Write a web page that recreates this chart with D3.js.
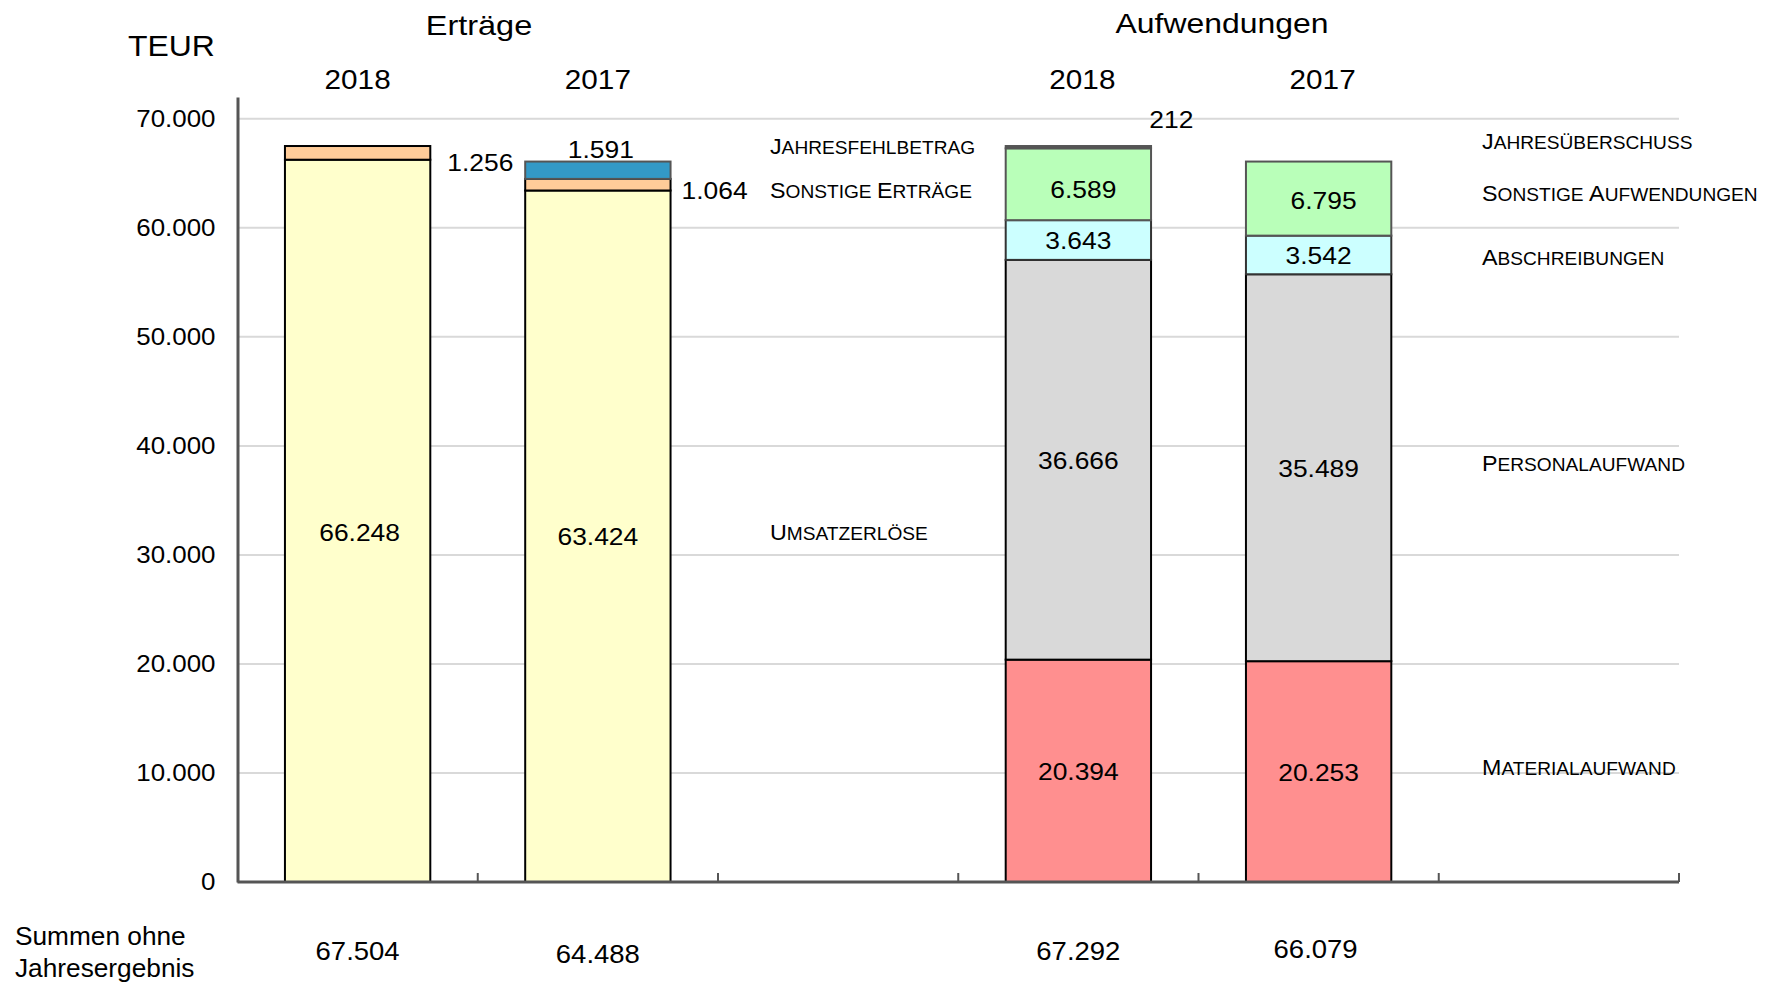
<!DOCTYPE html>
<html>
<head>
<meta charset="utf-8">
<script src="https://cdn.jsdelivr.net/npm/d3@7"></script>
<style>
  body { margin: 0; background: #fff; }
  text { font-family: "Liberation Sans", Arial, sans-serif; fill: #000; }
</style>
</head>
<body>
<svg id="chart" width="1773" height="983"></svg>
<script>
// slots on the x axis (two groups, each followed by an empty slot)
const slots = ["E2018", "E2017", "gap1", "A2018", "A2017", "gap2"];
const slotYears = ["2018", "2017", "", "2018", "2017", ""];

const ertragSeries = ["Umsatzerlöse", "Sonstige Erträge", "Jahresfehlbetrag"];
const ertrag2018 = [66248, 1256, 0];
const ertrag2017 = [63424, 1064, 1591];

const aufwandSeries = ["Materialaufwand", "Personalaufwand", "Abschreibungen", "Sonstige Aufwendungen", "Jahresüberschuss"];
const aufwand2018 = [20394, 36666, 3643, 6589, 212];
const aufwand2017 = [20253, 35489, 3542, 6795, 0];

const sums = [67504, 64488, 67292, 66079];
const yTicks = [0, 10000, 20000, 30000, 40000, 50000, 60000, 70000];

const colors = {
  "Umsatzerlöse": "#ffffcc", "Sonstige Erträge": "#ffcc99", "Jahresfehlbetrag": "#3399c6",
  "Materialaufwand": "#ff8f8f", "Personalaufwand": "#d9d9d9", "Abschreibungen": "#ccffff",
  "Sonstige Aufwendungen": "#b9ffb9", "Jahresüberschuss": "#555555"
};
const strokes = {
  "Jahresfehlbetrag": "#555", "Sonstige Aufwendungen": "#555", "Jahresüberschuss": "#555", "Abschreibungen": "#333"
};
// where the value label of a segment goes (default: centred inside), plus small nudges
const labelPos = {
  "E2018|Sonstige Erträge": "right", "E2017|Sonstige Erträge": "right",
  "E2017|Jahresfehlbetrag": "top", "A2018|Jahresüberschuss": "topright"
};
const labelNudge = {
  "E2018|Umsatzerlöse": [2, 11], "A2018|Sonstige Aufwendungen": [5, 5], "A2017|Sonstige Aufwendungen": [5, 1],
  "E2018|Sonstige Erträge": [0, 4], "E2017|Sonstige Erträge": [-6, 0]
};

const de = d3.formatLocale({decimal: ",", thousands: ".", grouping: [3], currency: ["", " €"]});
const fmt = de.format(",d");

const svg = d3.select("#chart");
const x = d3.scaleBand().domain(slots).range([237.5, 1679]).padding(0);
const y = d3.scaleLinear().domain([0, 72000]).range([882, 97]);
const barW = x.bandwidth() * 0.605;

// text in the reference is a bit wider than the font: stretch around its x
function stretch(sel, s) {
  sel.each(function() {
    const x0 = +this.getAttribute("x") || 0;
    const a = this.getAttribute("text-anchor");
    d3.select(this).attr("transform", `translate(${x0 * (1 - s)},0) scale(${s},1)`);
  });
}

// grid
svg.append("g").selectAll("line").data(yTicks.filter(d => d > 0)).join("line")
  .attr("x1", x.range()[0]).attr("x2", x.range()[1])
  .attr("y1", d => y(d)).attr("y2", d => y(d))
  .attr("stroke", "#d9d9d9").attr("stroke-width", 2);

// y axis
const yAxis = svg.append("g").attr("transform", "translate(237.5,0)")
  .call(d3.axisLeft(y).tickValues(yTicks).tickSize(0).tickPadding(22).tickFormat(fmt));
yAxis.select(".domain").attr("stroke", "#555").attr("stroke-width", 3);
yAxis.selectAll("text").attr("font-size", 24).attr("font-family", "Liberation Sans, Arial").attr("fill", "#000")
  .call(stretch, 1.08);

// stacked bars
function drawGroup(keys, rows) {
  const table = rows.map(r => Object.assign({slot: r.slot}, Object.fromEntries(keys.map((k, i) => [k, r.values[i]]))));
  const stacked = d3.stack().keys(keys)(table);
  stacked.forEach(layer => {
    layer.forEach(seg => {
      const v = seg[1] - seg[0];
      if (v <= 0) return;
      const slot = seg.data.slot;
      const id = slot + "|" + layer.key;
      const cx = x(slot) + x.bandwidth() / 2;
      svg.append("rect")
        .attr("x", cx - barW / 2).attr("width", barW)
        .attr("y", y(seg[1])).attr("height", y(seg[0]) - y(seg[1]))
        .attr("fill", colors[layer.key])
        .attr("stroke", strokes[layer.key] || "#000").attr("stroke-width", 2);
      const pos = labelPos[id] || "in";
      const [nx, ny] = labelNudge[id] || [0, 0];
      const t = svg.append("text").attr("class", "val").attr("font-size", 24).text(fmt(v));
      if (pos === "in") {
        t.attr("x", cx + nx).attr("y", (y(seg[0]) + y(seg[1])) / 2 + 9 + ny).attr("text-anchor", "middle");
      } else if (pos === "right") {
        t.attr("x", cx + barW / 2 + 17 + nx).attr("y", (y(seg[0]) + y(seg[1])) / 2 + 14 + ny);
      } else if (pos === "top") {
        t.attr("x", cx + 3 + nx).attr("y", y(seg[1]) - 4 + ny).attr("text-anchor", "middle");
      } else {
        t.attr("x", cx + 93 + nx).attr("y", y(seg[1]) - 18 + ny).attr("text-anchor", "middle");
      }
    });
  });
}
drawGroup(ertragSeries, [{slot: "E2018", values: ertrag2018}, {slot: "E2017", values: ertrag2017}]);
drawGroup(aufwandSeries, [{slot: "A2018", values: aufwand2018}, {slot: "A2017", values: aufwand2017}]);
svg.selectAll("text.val").call(stretch, 1.1);

// x axis
const xAxis = svg.append("g").attr("transform", "translate(0,882)");
xAxis.append("line").attr("x1", x.range()[0]).attr("x2", x.range()[1])
  .attr("stroke", "#555").attr("stroke-width", 3);
xAxis.selectAll(".tick").data(slots).join("line").attr("class", "tick")
  .attr("x1", d => x(d) + x.bandwidth()).attr("x2", d => x(d) + x.bandwidth())
  .attr("y1", 0).attr("y2", -9).attr("stroke", "#555").attr("stroke-width", 2);

// titles and year labels
const head = svg.append("g");
head.append("text").attr("x", 128).attr("y", 56).attr("font-size", 29).text("TEUR").call(stretch, 1.1);
head.append("text").attr("x", 479).attr("y", 35)
  .attr("text-anchor", "middle").attr("font-size", 28).text("Erträge").call(stretch, 1.16);
head.append("text").attr("x", 1222).attr("y", 33)
  .attr("text-anchor", "middle").attr("font-size", 28).text("Aufwendungen").call(stretch, 1.14);
head.append("g").selectAll("text").data(slots.filter((s, i) => slotYears[i])).join("text")
  .attr("x", d => x(d) + x.bandwidth() / 2 + (d[0] === "A" ? 4 : 0)).attr("y", 89).attr("text-anchor", "middle")
  .attr("font-size", 27).text(d => slotYears[slots.indexOf(d)]).call(stretch, 1.1);

// sums row
const sumSlots = ["E2018", "E2017", "A2018", "A2017"];
const sumBase = [960, 963, 960, 958];
svg.append("g").selectAll("text").data(sums).join("text")
  .attr("x", (d, i) => x(sumSlots[i]) + x.bandwidth() / 2 + (i === 3 ? -3 : 0)).attr("y", (d, i) => sumBase[i])
  .attr("text-anchor", "middle").attr("font-size", 25).text(d => fmt(d)).call(stretch, 1.1);
svg.append("text").attr("x", 15).attr("y", 945).attr("font-size", 25).text("Summen ohne").call(stretch, 1.05);
svg.append("text").attr("x", 15).attr("y", 977).attr("font-size", 25).text("Jahresergebnis").call(stretch, 1.05);

// small-caps series labels
function smallCaps(xPos, yPos, label) {
  const t = svg.append("text").attr("x", xPos).attr("y", yPos);
  label.split(" ").forEach((word, wi) => {
    if (wi > 0) t.append("tspan").attr("font-size", 19).text(" ");
    t.append("tspan").attr("font-size", 22.5).text(word[0].toUpperCase());
    t.append("tspan").attr("font-size", 18.5).text(word.slice(1).toUpperCase());
  });
  t.call(stretch, 1.035);
}
const ertragLabelY = {"Jahresfehlbetrag": 154, "Sonstige Erträge": 198, "Umsatzerlöse": 540};
const aufwandLabelY = {"Jahresüberschuss": 149, "Sonstige Aufwendungen": 201, "Abschreibungen": 265,
  "Personalaufwand": 471, "Materialaufwand": 775};
ertragSeries.forEach(k => smallCaps(770, ertragLabelY[k], k));
aufwandSeries.forEach(k => smallCaps(1482, aufwandLabelY[k], k));
</script>
</body>
</html>
